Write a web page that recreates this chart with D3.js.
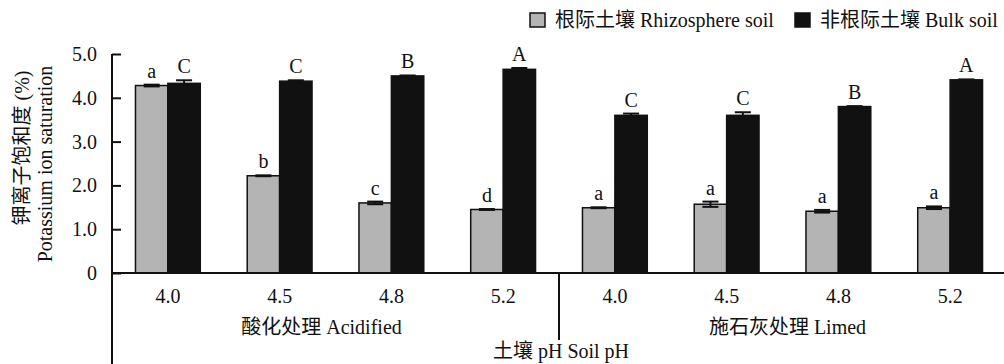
<!DOCTYPE html>
<html><head><meta charset="utf-8">
<script src="https://cdn.jsdelivr.net/npm/d3@7"></script>
<style>
html,body{margin:0;padding:0;background:#fff;}
svg text{font-family:"Liberation Serif","Times New Roman","Noto Sans CJK SC",serif;fill:#111;}
</style></head>
<body>
<svg id="chart" width="1004" height="364"></svg>
<script>
// ---- data ----
const phLabels = ["4.0","4.5","4.8","5.2","4.0","4.5","4.8","5.2"];
const groups = ["酸化处理 Acidified","施石灰处理 Limed"];
const groupOf = [0,0,0,0,1,1,1,1];
const seriesNames = ["根际土壤 Rhizosphere soil","非根际土壤 Bulk soil"];
const rhizo    = [4.28, 2.22, 1.60, 1.45, 1.49, 1.57, 1.41, 1.49];
const rhizoErr = [0.02, 0.01, 0.03, 0.01, 0.01, 0.06, 0.03, 0.03];
const bulk     = [4.33, 4.38, 4.50, 4.65, 3.60, 3.60, 3.80, 4.41];
const bulkErr  = [0.07, 0.02, 0.01, 0.03, 0.04, 0.07, 0.01, 0.01];
const rhizoLetters = ["a","b","c","d","a","a","a","a"];
const bulkLetters  = ["C","C","B","A","C","C","B","A"];
const yTicks = [0,1,2,3,4,5];
const yTickLabels = ["0","1.0","2.0","3.0","4.0","5.0"];
const yTitle = ["钾离子饱和度 (%)","Potassium ion saturation"];
const xTitle = "土壤 pH Soil pH";

(function(){
// ---- layout ----
const svg = d3.select("#chart");
const mLeft = 112, mRight = 1006, mTop = 54, mBottom = 273;
const idx = d3.range(phLabels.length);
const x0 = d3.scaleBand().domain(idx).range([mLeft, mRight]).paddingInner(0.42).paddingOuter(0.21);
const x1 = d3.scaleBand().domain([0,1]).range([0, x0.bandwidth()]);
const y = d3.scaleLinear().domain([0,5]).range([mBottom, mTop]);
const colors = ["#b4b4b4", "#111111"];
const FS = 20;

const series = [
  {vals: rhizo, err: rhizoErr, letters: rhizoLetters},
  {vals: bulk, err: bulkErr, letters: bulkLetters}
];

// bars
const g = svg.append("g");
series.forEach((s, si) => {
  g.selectAll(null).data(idx).enter().append("rect")
    .attr("x", i => x0(i) + x1(si))
    .attr("y", i => y(s.vals[i]))
    .attr("width", x1.bandwidth())
    .attr("height", i => y(0) - y(s.vals[i]))
    .attr("fill", colors[si])
    .attr("stroke", "#111").attr("stroke-width", 1.5);
});
// error bars
series.forEach((s, si) => {
  const cx = i => x0(i) + x1(si) + x1.bandwidth()/2;
  const eg = g.append("g").attr("stroke", "#111").attr("stroke-width", 2);
  eg.selectAll(null).data(idx).enter().append("line")
    .attr("x1", cx).attr("x2", cx)
    .attr("y1", i => y(s.vals[i] - s.err[i])).attr("y2", i => y(s.vals[i] + s.err[i]));
  eg.selectAll(null).data(idx).enter().append("line")
    .attr("x1", i => cx(i) - 8).attr("x2", i => cx(i) + 8)
    .attr("y1", i => y(s.vals[i] + s.err[i])).attr("y2", i => y(s.vals[i] + s.err[i]));
  eg.selectAll(null).data(idx).enter().append("line")
    .attr("x1", i => cx(i) - 8).attr("x2", i => cx(i) + 8)
    .attr("y1", i => y(s.vals[i] - s.err[i])).attr("y2", i => y(s.vals[i] - s.err[i]));
  // letters
  g.selectAll(null).data(idx).enter().append("text")
    .attr("x", cx).attr("y", i => y(s.vals[i] + s.err[i]) - 7)
    .attr("text-anchor", "middle").attr("font-size", FS)
    .text(i => s.letters[i]);
});

// y axis
const yAxis = d3.axisRight(y).tickValues(yTicks).tickSize(9).tickFormat("");
const ya = svg.append("g").attr("transform", `translate(${mLeft},0)`).call(yAxis);
ya.select(".domain").remove();
ya.selectAll("line").attr("stroke", "#111").attr("stroke-width", 2);
svg.append("line").attr("x1", mLeft).attr("x2", mLeft).attr("y1", mTop).attr("y2", 364)
  .attr("stroke", "#111").attr("stroke-width", 2);
svg.selectAll(null).data(yTicks).enter().append("text")
  .attr("x", 97).attr("y", d => y(d)).attr("dy", "0.35em")
  .attr("text-anchor", "end").attr("font-size", FS)
  .text((d, i) => yTickLabels[i]);

// x axis
svg.append("line").attr("x1", mLeft).attr("x2", 1004).attr("y1", mBottom).attr("y2", mBottom)
  .attr("stroke", "#111").attr("stroke-width", 2);
svg.selectAll(null).data(idx).enter().append("text")
  .attr("x", i => x0(i) + x0.bandwidth()/2).attr("y", 303)
  .attr("text-anchor", "middle").attr("font-size", FS)
  .text(i => phLabels[i]);
// group separator
const sepX = (x0(3) + x0.bandwidth() + x0(4)) / 2;
svg.append("line").attr("x1", sepX).attr("x2", sepX).attr("y1", mBottom).attr("y2", 340)
  .attr("stroke", "#111").attr("stroke-width", 2);
const groupOffsets = [-14, 5];
groups.forEach((gName, gi) => {
  const members = idx.filter(i => groupOf[i] === gi);
  const cx = (x0(members[0]) + x0(members[members.length-1]) + x0.bandwidth()) / 2;
  svg.append("text").attr("x", cx + groupOffsets[gi]).attr("y", 334)
    .attr("text-anchor", "middle").attr("font-size", FS).text(gName);
});
svg.append("text").attr("x", sepX + 2).attr("y", 358)
  .attr("text-anchor", "middle").attr("font-size", FS).text(xTitle);

// y title
svg.append("text").attr("transform", "translate(29,148) rotate(-90)")
  .attr("text-anchor", "middle").attr("font-size", FS).text(yTitle[0]);
svg.append("text").attr("transform", "translate(52,164) rotate(-90)")
  .attr("text-anchor", "middle").attr("font-size", FS).text(yTitle[1]);

// legend
const legendX = [530, 795];
seriesNames.forEach((name, si) => {
  svg.append("rect").attr("x", legendX[si]).attr("y", 13).attr("width", 15).attr("height", 14)
    .attr("fill", colors[si]).attr("stroke", "#111").attr("stroke-width", 1.5);
  svg.append("text").attr("x", legendX[si] + 25).attr("y", 27)
    .attr("font-size", FS).text(name);
});
})();
</script>
</body></html>
